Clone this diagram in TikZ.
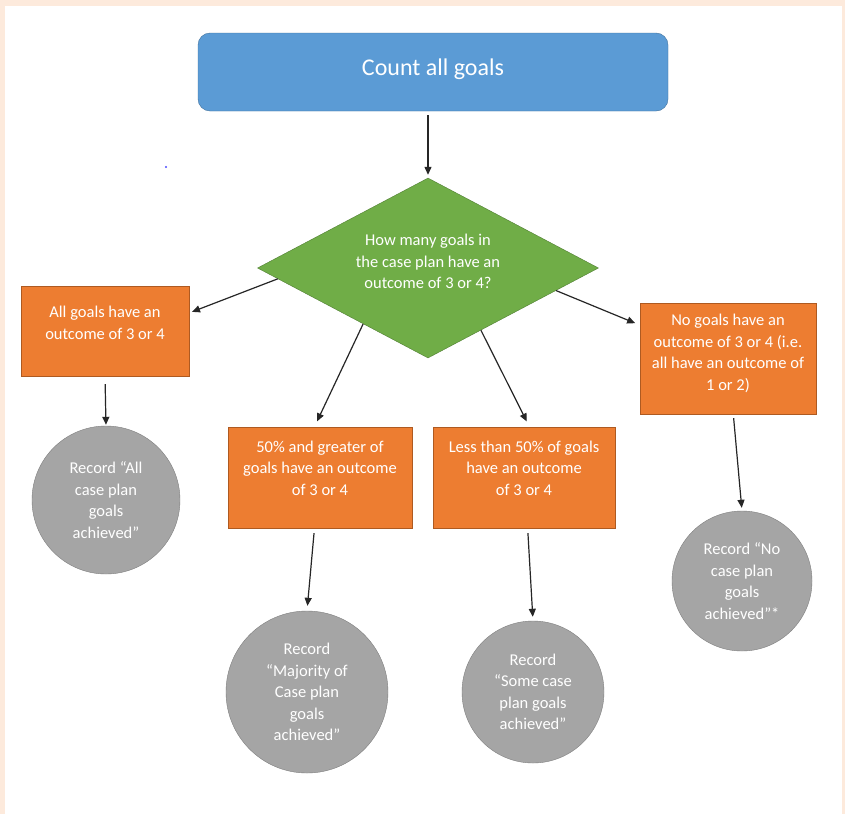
\documentclass[tikz,border=0pt]{standalone}
\usepackage{fontspec}
\setmainfont{Carlito}
\usepackage{tikz}
\usetikzlibrary{arrows.meta,shapes.geometric,calc}
\definecolor{peach}{HTML}{FDEADC}
\definecolor{cblue}{HTML}{5B9BD5}
\definecolor{dblue}{HTML}{41719C}
\definecolor{cgreen}{HTML}{70AD47}
\definecolor{dgreen}{HTML}{507E32}
\definecolor{corange}{HTML}{ED7D31}
\definecolor{dorange}{HTML}{AE5A21}
\definecolor{cgray}{HTML}{A5A5A5}
\definecolor{dgray}{HTML}{7F7F7F}
\tikzset{
  txt/.style={text=white,align=center,font=\fontsize{16.5}{21.5}\selectfont,inner sep=0pt},
  box/.style={draw=dorange,fill=corange,inner sep=0pt},
  dec/.style={diamond,draw=dgreen,fill=cgreen,inner sep=0pt},
  rec/.style={circle,draw=dgray,fill=cgray,txt},
  arr/.style={-{Triangle[length=8pt,width=7pt]},line width=1.2pt,draw=black!85}
}

\begin{document}
\begin{tikzpicture}[x=1pt,y=-1pt]
%\draw [help lines] (0,0) grid (845,814);
\useasboundingbox (0,0) rectangle (845,814);
\fill [peach] (0,0) rectangle (845,814); \fill [white] (5,6) rectangle (842,814); \fill [blue!70] (166,167) circle (1.2);
\node [draw=dblue,fill=cblue,text=white,rounded corners=12pt,minimum width=470pt,minimum height=78pt,text depth=9pt,font=\fontsize{24}{28}\selectfont] (top) at (433,72) {Count all goals};
\node [dec,minimum width=341pt,minimum height=180pt,aspect=1.9,label={[txt,yshift=6.5pt]center:{How many goals in\\the case plan have an\\outcome of 3 or 4?}}] (q) at (428,268) {};
\node [box,minimum width=168pt,minimum height=90pt,label={[txt,yshift=8pt]center:{All goals have an\\outcome of 3 or 4}}] (all) at (105,331) {};
\node [box,minimum width=184pt,minimum height=101pt,label={[txt,yshift=9.5pt]center:{50\% and greater of\\goals have an outcome\\of 3 or 4}}] (maj) at (320,477.5) {};
\node [box,minimum width=182pt,minimum height=101pt,label={[txt,yshift=9.5pt]center:{Less than 50\% of goals\\have an outcome\\of 3 or 4}}] (less) at (524,477.5) {};
\node [box,minimum width=176pt,minimum height=111pt,label={[txt,yshift=5pt]center:{No goals have an\\outcome of 3 or 4 (i.e.\\all have an outcome of\\1 or 2)}}] (none) at (728,358.5) {};
\node [rec,minimum size=148pt] (r1) at (106,500) {Record “All\\case plan\\goals\\achieved”};
\node [rec,minimum size=162pt] (r2) at (307,692) {Record\\“Majority of\\Case plan\\goals\\achieved”};
\node [rec,minimum size=142pt] (r3) at (533,692) {Record\\“Some case\\plan goals\\achieved”};
\node [rec,minimum size=140pt] (r4) at (742,581) {Record “No\\case plan\\goals\\achieved”*};

\draw [arr,shorten <=4pt,shorten >=3pt] (top.south -| q.north) -- (q.north);
\draw [arr,shorten >=3pt] ($(q.west)!0.12!(q.south)$) -- ($(all.north east)!0.3!(all.south east)$);
\draw [arr,shorten >=6pt] ($(q.west)!0.62!(q.south)$) -- ($(maj.north west)!0.47!(maj.north east)$);
\draw [arr,shorten >=6pt] ($(q.east)!0.69!(q.south)$) -- ($(less.north west)!0.53!(less.north east)$);
\draw [arr,shorten >=5pt] ($(q.east)!0.25!(q.south)$) -- ($(none.north west)!0.2!(none.south west)$);
\draw [arr,shorten <=8pt,shorten >=1pt] (all.south) -- (r1.north);
\draw [arr,shorten <=5pt,shorten >=5pt] ($(maj.south west)!0.47!(maj.south east)$) -- (r2.north);
\draw [arr,shorten <=5pt,shorten >=4pt] ($(less.south west)!0.52!(less.south east)$) -- (r3.north);
\draw [arr,shorten <=4pt,shorten >=3pt] ($(none.south west)!0.53!(none.south east)$) -- (r4.north);
\end{tikzpicture}
\end{document}
